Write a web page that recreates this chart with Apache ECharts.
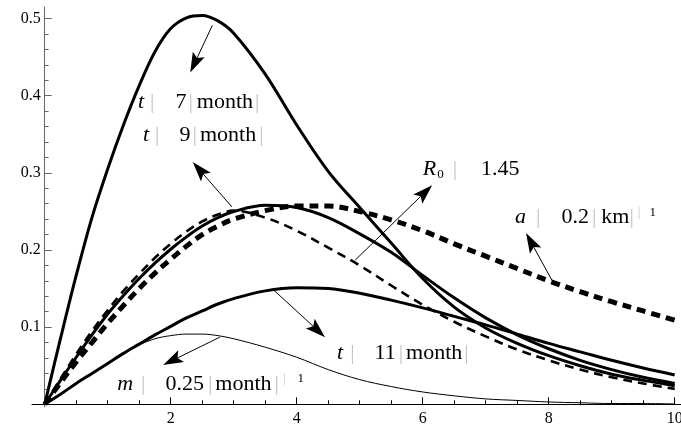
<!DOCTYPE html>
<html>
<head>
<meta charset="utf-8">
<script src="https://cdn.jsdelivr.net/npm/echarts@6/dist/echarts.min.js"></script>
<style>html,body{margin:0;padding:0;background:#fff}#c{width:681px;height:437px}</style>
</head>
<body>
<div id="c"></div>
<script>
// ---------- data ----------
const xValues = [0,0.25,0.5,0.75,1,1.25,1.5,1.75,2,2.25,2.5,2.75,3,3.5,4,4.5,5,5.5,6,6.5,7,7.5,8,8.5,9,9.5,10];
// t = 7 month
const curveT7  = [0,0.085,0.167,0.242,0.305,0.362,0.413,0.457,0.487,0.501,0.504,0.497,0.481,0.428,0.362,0.302,0.255,0.209,0.163,0.126,0.099,0.079,0.063,0.050,0.039,0.031,0.024];
// t = 9 month
const curveT9  = [0,0.031,0.061,0.090,0.117,0.141,0.163,0.183,0.201,0.217,0.231,0.242,0.250,0.258,0.255,0.242,0.221,0.197,0.167,0.138,0.112,0.090,0.072,0.057,0.045,0.035,0.027];
// R0 = 1.45 (thin dashed)
const curveR0  = [0,0.033,0.065,0.095,0.122,0.147,0.169,0.190,0.208,0.224,0.237,0.246,0.251,0.242,0.225,0.203,0.180,0.154,0.129,0.107,0.088,0.071,0.057,0.045,0.035,0.027,0.020];
// a = 0.2 km^-1 (thick dashed)
const curveA   = [0,0.028,0.055,0.080,0.105,0.128,0.150,0.170,0.188,0.205,0.220,0.231,0.240,0.251,0.257,0.257,0.250,0.239,0.225,0.208,0.192,0.176,0.160,0.146,0.133,0.121,0.109];
// t = 11 month
const curveT11 = [0,0.013,0.027,0.040,0.053,0.066,0.078,0.090,0.101,0.112,0.121,0.130,0.137,0.147,0.151,0.150,0.144,0.135,0.125,0.114,0.103,0.091,0.079,0.068,0.057,0.047,0.038];
// m = 0.25 month^-1 (thin solid)
const curveM   = [0,0.013,0.027,0.040,0.053,0.066,0.077,0.085,0.089,0.091,0.091,0.089,0.085,0.074,0.061,0.045,0.032,0.023,0.016,0.011,0.007,0.005,0.003,0.002,0.001,0.001,0.0005];

const xMajorTicks = [2,4,6,8,10];
const xMinorTicks = [0.5,1,1.5,2.5,3,3.5,4.5,5,5.5,6.5,7,7.5,8.5,9,9.5];
const yMajorTicks = [0.1,0.2,0.3,0.4,0.5];
const yMinorTicks = [0.02,0.04,0.06,0.08,0.12,0.14,0.16,0.18,0.22,0.24,0.26,0.28,0.32,0.34,0.36,0.38,0.42,0.44,0.46,0.48];

// label texts (segments: kind, text)
const labelT7  = [['i','t'],['g','|'],['n','7'],['g','|'],['n','month'],['g','|']];
const labelT9  = [['i','t'],['g','|'],['n','9'],['g','|'],['n','month'],['g','|']];
const labelR0  = [['i','R'],['sub','0'],['g','|'],['n','1.45']];
const labelA   = [['i','a'],['g','|'],['n','0.2'],['g','|'],['n','km'],['g','|'],['supg','|'],['sup','1']];
const labelT11 = [['i','t'],['g','|'],['n','11'],['g','|'],['n','month'],['g','|']];
const labelM   = [['i','m'],['g','|'],['n','0.25'],['g','|'],['n','month'],['g','|'],['supg','|'],['sup','1']];

// ---------- annotation layout (data coordinates) ----------
const annotations = [
  {segs: labelT7,  at: [1.48, 0.392], pads: [0,6,21,2,4,2],       from: [2.66,0.491], to: [2.31,0.430]},
  {segs: labelT9,  at: [1.56, 0.349], pads: [0,6,20,2,3,3],       from: [2.97,0.256], to: [2.35,0.314]},
  {segs: labelR0,  at: [6.00, 0.305], pads: [0,1,9,24],           from: [4.93,0.187], to: [6.15,0.284]},
  {segs: labelA,   at: [7.465,0.242], pads: [0,10,21,3,5,0,4,9],  from: [8.07,0.158], to: [7.64,0.222]},
  {segs: labelT11, at: [4.64, 0.066], pads: [0,7,20,3,3,2],       from: [3.61,0.150], to: [4.45,0.087]},
  {segs: labelM,   at: [1.15, 0.0256],pads: [0,8,20,4,3,3,4,12],  from: [2.78,0.087], to: [1.88,0.051]}
];

// ---------- chart ----------
const serif = '"Liberation Serif", "Times New Roman", serif';
const chart = echarts.init(document.getElementById('c'), null, {renderer: 'canvas'});
function pairs(ys) { return xValues.map((x, i) => [x, ys[i]]); }

const grid0 = {left: 44.7, right: 0, top: 7, bottom: 32.7, outerBoundsMode: 'none', containLabel: false};
const grid1 = {left: 32, right: 0, top: 7, bottom: 30, outerBoundsMode: 'none', containLabel: false};

function lineSeries(ys, width, dash) {
  return {
    type: 'line', data: pairs(ys), smooth: 0.35, showSymbol: false, silent: true,
    xAxisIndex: 0, yAxisIndex: 0,
    lineStyle: {color: '#000', width: width, type: dash || 'solid', cap: 'butt', join: 'round'},
    emphasis: {disabled: true}
  };
}

chart.setOption({
  animation: false,
  grid: [grid0, grid1],
  xAxis: [
    {gridIndex: 0, type: 'value', min: 0, max: 10.1,
      axisLine: {show: false},
      axisTick: {inside: true, length: 7, customValues: xMajorTicks, lineStyle: {color: '#000', width: 1}},
      axisLabel: {customValues: xMajorTicks, fontFamily: serif, fontSize: 16, color: '#000', margin: 6},
      splitLine: {show: false}},
    {gridIndex: 1, type: 'value', min: -0.2, max: 10.1,
      axisLine: {onZero: true, lineStyle: {color: '#000', width: 1}},
      axisTick: {inside: true, length: 4, customValues: xMinorTicks, lineStyle: {color: '#000', width: 1}},
      axisLabel: {show: false}, splitLine: {show: false}}
  ],
  yAxis: [
    {gridIndex: 0, type: 'value', min: 0, max: 0.515,
      axisLine: {show: false},
      axisTick: {inside: true, length: 7, customValues: yMajorTicks, lineStyle: {color: '#666', width: 1}},
      axisLabel: {customValues: yMajorTicks, fontFamily: serif, fontSize: 16, color: '#000', margin: 4, align: 'right'},
      splitLine: {show: false}},
    {gridIndex: 1, type: 'value', min: -0.0035, max: 0.515,
      axisLine: {onZero: true, lineStyle: {color: '#666', width: 1}},
      axisTick: {inside: true, length: 4, customValues: yMinorTicks, lineStyle: {color: '#666', width: 1}},
      axisLabel: {show: false}, splitLine: {show: false}}
  ],
  series: [
    lineSeries(curveA, 5, [9, 6]),
    lineSeries(curveR0, 2.6, [9, 6]),
    lineSeries(curveT9, 3),
    lineSeries(curveT7, 3),
    lineSeries(curveT11, 3),
    lineSeries(curveM, 1)
  ]
});

// ---------- annotations (arrows + labels) ----------
const kindStyle = {
  i:    {fontStyle: 'italic', fontSize: 22, fill: '#000', lineHeight: 24},
  n:    {fontStyle: 'normal', fontSize: 22, fill: '#000', lineHeight: 24},
  g:    {fontStyle: 'normal', fontSize: 22, fill: '#c4c4c4', lineHeight: 24},
  sup:  {fontStyle: 'normal', fontSize: 13, fill: '#000', lineHeight: 12, verticalAlign: 'top'},
  supg: {fontStyle: 'normal', fontSize: 13, fill: '#c4c4c4', lineHeight: 12, verticalAlign: 'top'},
  sub:  {fontStyle: 'normal', fontSize: 13, fill: '#000', lineHeight: 12, verticalAlign: 'bottom'}
};

const graphics = [];
annotations.forEach((an, k) => {
  const p0 = chart.convertToPixel({gridIndex: 0}, an.from);
  const p1 = chart.convertToPixel({gridIndex: 0}, an.to);
  const dx = p1[0] - p0[0], dy = p1[1] - p0[1];
  const len = Math.sqrt(dx * dx + dy * dy);
  const ux = dx / len, uy = dy / len;
  const nx = -uy, ny = ux;
  const L = 20, W = 6.5, N = 4;
  const bx = p1[0] - ux * L, by = p1[1] - uy * L;
  const notch = [p1[0] - ux * (L - N), p1[1] - uy * (L - N)];
  graphics.push({
    type: 'line', silent: true, z: 50,
    shape: {x1: p0[0], y1: p0[1], x2: notch[0], y2: notch[1]},
    style: {stroke: '#000', lineWidth: 1}
  });
  graphics.push({
    type: 'polygon', silent: true, z: 51,
    shape: {points: [[p1[0], p1[1]], [bx + nx * W, by + ny * W], notch, [bx - nx * W, by - ny * W]]},
    style: {fill: '#000'}
  });
  const rich = {};
  let text = '';
  an.segs.forEach((s, j) => {
    const name = 's' + k + '_' + j;
    rich[name] = Object.assign({fontFamily: serif, padding: [0, 0, 0, an.pads[j] || 0]}, kindStyle[s[0]]);
    text += '{' + name + '|' + s[1] + '}';
  });
  const pt = chart.convertToPixel({gridIndex: 0}, an.at);
  graphics.push({
    type: 'text', silent: true, z: 52,
    x: pt[0], y: pt[1],
    style: {
      text: text, rich: rich, fontFamily: serif, fontSize: 22, fill: '#000',
      align: 'left', verticalAlign: 'middle', textAlign: 'left', textVerticalAlign: 'middle'
    }
  });
});
chart.setOption({graphic: graphics});
</script>
</body>
</html>
